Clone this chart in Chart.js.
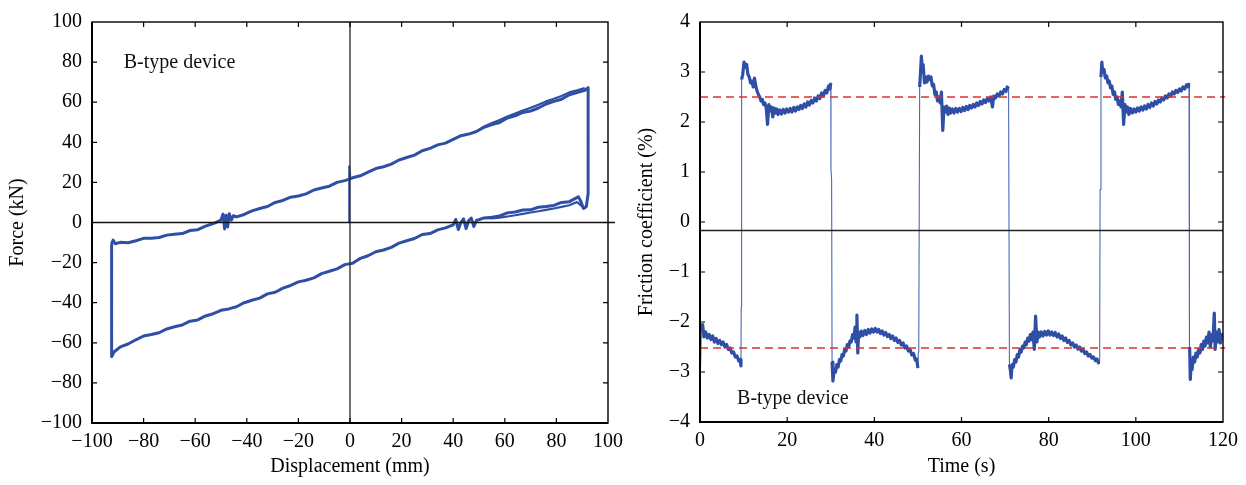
<!DOCTYPE html>
<html>
<head>
<meta charset="utf-8">
<script src="https://cdn.jsdelivr.net/npm/chart.js@4.4.1/dist/chart.umd.min.js"></script>
<style>
  body { margin: 0; background: #fff; }
  #wrap { position: relative; width: 1246px; height: 485px; }
  canvas { position: absolute; top: 0; }
</style>
</head>
<body>
<div id="wrap">
  <canvas id="loopChart" width="630" height="485" style="left:0px"></canvas>
  <canvas id="fricChart" width="618" height="485" style="left:628px"></canvas>
</div>
<script>
// --- Left panel: force vs displacement (hysteresis loop) ---
const dispTicks = [-100, -80, -60, -40, -20, 0, 20, 40, 60, 80, 100];
const forceTicks = [-100, -80, -60, -40, -20, 0, 20, 40, 60, 80, 100];

// upper branch, left to right [displacement mm, force kN]
const upperBranch = [
  [-92.4,-10.5],[-91.8,-8.8],[-91,-10.6],[-89,-9.9],[-86,-10.1],[-83,-9.1],[-80,-7.9],[-77,-7.9],
  [-74,-7.5],[-71,-6.3],[-68,-5.9],[-65,-5.5],[-62,-4.0],[-59,-3.6],[-56,-1.8],[-53,-0.5],[-50,1.2],
  [-49.2,4.2],[-48.6,-3.2],[-48,3.6],[-47.4,-2.2],[-46.8,4.4],[-46,1.2],[-45.2,3.4],
  [-44,2.8],[-41,4.0],[-38,5.8],[-35,7.0],[-32,8.0],[-29,10.0],[-26,11.0],[-23,12.6],[-20,13.2],
  [-17,14.3],[-14,16.2],[-11,17.2],[-8,18.1],[-5,20.0],[-2,20.9],[1,22.3],[4,23.3],[7,25.1],
  [10,26.9],[13,27.8],[16,29.1],[19,31.2],[22,32.4],[25,33.6],[28,35.8],[31,37.0],[34,38.7],
  [37,39.6],[40,41.5],[43,43.3],[46,44.1],[49,45.4],[52,47.5],[55,48.8],[58,49.9],[61,52.1],
  [64,53.2],[67,54.9],[70,55.6],[73,57.1],[76,59.1],[79,60.4],[82,61.5],[85,63.7],[88,64.8],
  [91,65.9],[92.3,67.2]
];
// right end drop and hook, top to bottom
const rightHook = [[92.3,14.5],[91.6,8.0],[90.5,7.0],[89.5,10.5],[88.5,12.8]];
// lower branch, left to right
const lowerBranch = [
  [-92.3,-66.8],[-91.5,-64.6],[-89,-62.0],[-86,-60.6],[-83,-58.5],[-80,-56.6],[-77,-55.9],[-74,-55.0],
  [-71,-53.1],[-68,-52.0],[-65,-51.1],[-62,-49.2],[-59,-48.6],[-56,-46.6],[-53,-45.5],[-50,-43.8],
  [-47,-43.1],[-44,-42.0],[-41,-40.0],[-38,-38.8],[-35,-37.7],[-32,-35.6],[-29,-34.8],[-26,-32.7],
  [-23,-31.4],[-20,-29.6],[-17,-28.8],[-14,-27.6],[-11,-25.5],[-8,-24.3],[-5,-23.1],[-2,-21.0],
  [1,-20.3],[4,-17.9],[7,-16.6],[10,-14.6],[13,-13.7],[16,-12.4],[19,-10.3],[22,-9.1],[25,-8.0],
  [28,-6.0],[31,-5.5],[34,-3.7],[37,-2.7],[40,-1.2],[41,1.5],[42,-3.5],[43,0.1],[44,1.8],[45,-3.0],
  [46,1.0],[47,2.2],[48,-2.0],[49,1.0],[52,2.3],[55,2.6],[58,3.3],[61,4.8],[64,5.2],[67,6.2],
  [70,6.3],[73,7.6],[76,8.0],[79,8.5],[82,10.0],[85,10.4],[87,11.8]
];
// repeated cycles, slightly offset near the right end
const upperPass2 = [[49,45.4],[52,47.9],[55,49.6],[58,51.1],[61,52.9],[64,54.3],[67,55.9],
  [70,57.2],[73,58.7],[76,60.4],[79,61.7],[82,63.1],[85,64.9],[88,65.9],[91,67.0]];
const lowerPass2 = [[52,2.3],[55,2.0],[58,2.4],[61,3.0],[64,3.6],[67,4.3],[70,5.0],[73,5.6],
  [76,6.3],[79,7.0],[82,7.8],[85,8.6],[88,10.2],[90,8.0],[91.5,7.2]];
const loopSpike = [[-0.3,0],[-0.3,28],[0.2,21.8]];

// --- Right panel: friction coefficient vs time ---
const timeTicks = [0, 20, 40, 60, 80, 100, 120];
const fricTicks = [-4, -3, -2, -1, 0, 1, 2, 3, 4];
const designLevels = [2.5, -2.52];
const baseLevel = -0.17;

const fricStart = [[0,-0.05],[0.1,-3.0]];
const fricA = [[0.3,-2.2],[0.6,-2.05],[0.9,-2.3],[1.3,-2.2],[1.7,-2.32],[2.1,-2.25],[2.5,-2.35],[2.9,-2.28],
  [3.3,-2.4],[3.7,-2.33],[4.1,-2.43],[4.5,-2.37],[4.9,-2.45],[5.3,-2.4],[5.7,-2.5],[6.1,-2.45],[6.5,-2.55],
  [6.9,-2.52],[7.3,-2.62],[7.7,-2.6],[8.1,-2.7],[8.5,-2.68],[8.9,-2.78],[9.2,-2.75],[9.4,-2.88]];
const rise1 = [[9.45,-1.7]];
const fricB = [[9.55,2.85],[9.8,2.95],[10.1,3.2],[10.4,3.1],[10.7,3.15],[11.0,2.95],[11.3,2.9],[11.6,2.78],
  [11.9,2.82],[12.2,2.7],[12.5,2.88],[12.8,2.72],[13.1,2.62],[13.4,2.55],[13.7,2.5],[14.0,2.42],[14.3,2.45],
  [14.6,2.35],[14.9,2.38],[15.2,2.28],[15.5,1.95],[15.8,2.35],[16.1,2.22],[16.4,2.3],[16.7,2.1],[17.0,2.28],
  [17.3,2.18],[17.6,2.26],[17.9,2.15],[18.3,2.24],[18.7,2.16],[19.1,2.25],[19.5,2.18],[19.9,2.26],[20.3,2.2],
  [20.7,2.27],[21.1,2.2],[21.5,2.29],[21.9,2.22],[22.3,2.3],[22.7,2.25],[23.1,2.33],[23.5,2.27],[23.9,2.36],
  [24.3,2.3],[24.7,2.4],[25.1,2.34],[25.5,2.43],[25.9,2.38],[26.3,2.48],[26.7,2.42],[27.1,2.52],[27.5,2.47],
  [27.9,2.58],[28.3,2.52],[28.7,2.63],[29.1,2.58],[29.5,2.72],[29.8,2.66],[30.0,2.78]];
const fall2 = [[30.05,1.05],[30.2,0.85]];
const fricC = [[30.3,-2.8],[30.5,-3.18],[30.8,-2.95],[31.1,-3.0],[31.4,-2.85],[31.7,-2.9],[32.0,-2.75],
  [32.3,-2.78],[32.6,-2.65],[32.9,-2.68],[33.2,-2.55],[33.5,-2.58],[33.8,-2.45],[34.1,-2.5],[34.4,-2.38],
  [34.7,-2.4],[35.0,-2.25],[35.3,-2.32],[35.6,-2.1],[35.8,-2.4],[36.0,-1.86],[36.2,-2.62],[36.4,-2.2],
  [36.7,-2.3],[37.0,-2.18],[37.4,-2.27],[37.8,-2.17],[38.2,-2.25],[38.6,-2.15],[39.0,-2.22],[39.4,-2.14],
  [39.8,-2.2],[40.2,-2.13],[40.6,-2.2],[41.0,-2.15],[41.4,-2.23],[41.8,-2.18],[42.2,-2.26],[42.6,-2.21],
  [43.0,-2.29],[43.4,-2.25],[43.8,-2.33],[44.2,-2.28],[44.6,-2.37],[45.0,-2.32],[45.4,-2.41],[45.8,-2.37],
  [46.2,-2.46],[46.6,-2.42],[47.0,-2.52],[47.4,-2.48],[47.8,-2.58],[48.2,-2.55],[48.6,-2.66],[49.0,-2.63],
  [49.4,-2.76],[49.7,-2.74],[50.0,-2.92]];
const rise3 = [[50.1,-2.6],[50.2,-2.35]];
const fricD = [[50.4,2.7],[50.6,3.0],[50.8,3.32],[51.0,3.05],[51.2,3.15],[51.5,2.78],[51.8,2.9],[52.1,2.8],
  [52.4,2.92],[52.7,2.85],[53.0,2.9],[53.3,2.72],[53.6,2.75],[53.9,2.55],[54.2,2.6],[54.5,2.42],[54.8,2.5],
  [55.1,2.38],[55.4,2.6],[55.7,1.83],[56.0,2.3],[56.3,2.2],[56.6,2.32],[56.9,2.15],[57.2,2.28],[57.5,2.18],
  [57.9,2.26],[58.3,2.18],[58.7,2.27],[59.1,2.2],[59.5,2.27],[59.9,2.21],[60.3,2.29],[60.7,2.23],[61.1,2.31],
  [61.5,2.25],[61.9,2.33],[62.3,2.28],[62.7,2.35],[63.1,2.3],[63.5,2.38],[63.9,2.33],[64.3,2.41],[64.7,2.36],
  [65.1,2.44],[65.5,2.39],[65.9,2.47],[66.3,2.42],[66.7,2.5],[67.1,2.3],[67.4,2.52],[67.8,2.48],[68.2,2.56],
  [68.6,2.52],[69.0,2.6],[69.4,2.56],[69.8,2.65],[70.2,2.61],[70.5,2.7],[70.8,2.66]];
const fricE = [[71.0,-2.85],[71.2,-2.95],[71.4,-3.12],[71.6,-2.85],[71.9,-2.9],[72.2,-2.75],[72.5,-2.8],
  [72.8,-2.65],[73.1,-2.7],[73.4,-2.55],[73.7,-2.6],[74.0,-2.48],[74.3,-2.52],[74.6,-2.4],[74.9,-2.45],
  [75.2,-2.32],[75.5,-2.38],[75.8,-2.25],[76.1,-2.35],[76.4,-2.2],[76.7,-2.55],[77.0,-1.88],[77.3,-2.4],
  [77.6,-2.2],[77.9,-2.3],[78.3,-2.2],[78.7,-2.28],[79.1,-2.19],[79.5,-2.26],[79.9,-2.18],[80.3,-2.26],
  [80.7,-2.2],[81.1,-2.27],[81.5,-2.21],[81.9,-2.3],[82.3,-2.24],[82.7,-2.33],[83.1,-2.28],[83.5,-2.37],
  [83.9,-2.32],[84.3,-2.41],[84.7,-2.37],[85.1,-2.46],[85.5,-2.42],[85.9,-2.5],[86.3,-2.46],[86.7,-2.54],
  [87.1,-2.5],[87.5,-2.58],[87.9,-2.55],[88.3,-2.63],[88.7,-2.6],[89.1,-2.68],[89.5,-2.65],[89.9,-2.72],
  [90.3,-2.7],[90.7,-2.77],[91.1,-2.74],[91.5,-2.84]];
const rise5 = [[91.7,-2.8],[91.8,0.65]];
const fricF = [[92.0,2.9],[92.2,3.2],[92.4,3.0],[92.7,3.05],[93.0,2.88],[93.3,2.92],[93.6,2.78],[93.9,2.82],
  [94.2,2.68],[94.5,2.72],[94.8,2.55],[95.1,2.6],[95.4,2.45],[95.7,2.5],[96.0,2.35],[96.3,2.42],[96.6,2.3],
  [96.9,2.6],[97.2,1.95],[97.5,2.35],[97.8,2.2],[98.1,2.3],[98.4,2.15],[98.8,2.27],[99.2,2.18],[99.6,2.26],
  [100.0,2.2],[100.4,2.28],[100.8,2.22],[101.2,2.3],[101.6,2.24],[102.0,2.32],[102.4,2.26],[102.8,2.35],
  [103.2,2.29],[103.6,2.38],[104.0,2.32],[104.4,2.41],[104.8,2.36],[105.2,2.44],[105.6,2.4],[106.0,2.48],
  [106.4,2.44],[106.8,2.52],[107.2,2.48],[107.6,2.56],[108.0,2.52],[108.4,2.6],[108.8,2.56],[109.2,2.63],
  [109.6,2.59],[110.0,2.66],[110.4,2.62],[110.8,2.7],[111.2,2.66],[111.6,2.74],[112.0,2.7],[112.1,2.78]];
const fall6 = [[112.2,2.75],[112.25,-2.45]];
const fricG = [[112.35,-2.5],[112.5,-3.15],[112.7,-2.8],[112.9,-2.95],[113.2,-2.7],[113.5,-2.8],[113.8,-2.62],
  [114.1,-2.7],[114.4,-2.55],[114.7,-2.62],[115.0,-2.45],[115.3,-2.55],[115.6,-2.38],[115.9,-2.48],
  [116.2,-2.3],[116.5,-2.42],[116.8,-2.2],[117.1,-2.5],[117.4,-2.25],[117.7,-2.38],[118.0,-1.82],
  [118.2,-2.55],[118.5,-2.2],[118.8,-2.4],[119.1,-2.15],[119.4,-2.42],[119.7,-2.25],[120.0,-2.35]];

// --- helpers ---
const serif = "'Liberation Serif', 'Times New Roman', serif";
const blue = '#2f4fa6';
const pts = arr => arr.map(p => ({ x: p[0], y: p[1] }));
const minus = v => String(v).replace('-', '\u2212');

function lineSet(data, color, width, extra) {
  return Object.assign({ data: pts(data), showLine: true, pointRadius: 0, borderColor: color,
    borderWidth: width, tension: 0, borderJoinStyle: 'round' }, extra || {});
}

// frame, inner tick marks and the in-plot label
const frameTicks = {
  id: 'frameTicks',
  afterDraw(chart, args, opts) {
    const { ctx, chartArea: a, scales: { x, y } } = chart;
    ctx.save();
    ctx.strokeStyle = '#000';
    ctx.lineWidth = 1.4;
    ctx.strokeRect(a.left, a.top, a.right - a.left, a.bottom - a.top);
    ctx.lineWidth = 2;
    ctx.beginPath();
    ctx.moveTo(a.left, a.top); ctx.lineTo(a.left, a.bottom); ctx.lineTo(a.right, a.bottom);
    ctx.stroke();
    ctx.lineWidth = 1.2;
    ctx.beginPath();
    opts.xTicks.forEach(v => {
      const px = x.getPixelForValue(v);
      ctx.moveTo(px, a.bottom); ctx.lineTo(px, a.bottom - 5);
      ctx.moveTo(px, a.top); ctx.lineTo(px, a.top + 5);
    });
    opts.yTicks.forEach(v => {
      const py = y.getPixelForValue(v);
      ctx.moveTo(a.left, py); ctx.lineTo(a.left + 5, py);
      ctx.moveTo(a.right, py); ctx.lineTo(a.right - 5, py);
    });
    ctx.stroke();
    ctx.fillStyle = '#111';
    ctx.font = '20px ' + serif;
    ctx.textBaseline = 'middle';
    ctx.textAlign = 'left';
    ctx.fillText(opts.label, x.getPixelForValue(opts.at[0]), y.getPixelForValue(opts.at[1]));
    ctx.restore();
  }
};

function axis(min, max, step, title, fit, titlePad, tickPad) {
  return {
    type: 'linear', min: min, max: max,
    ticks: { stepSize: step, autoSkip: false, maxRotation: 0, padding: tickPad, color: '#000',
      font: { family: serif, size: 20 }, callback: minus },
    grid: { display: false, drawTicks: false },
    border: { display: false },
    title: { display: true, text: title, color: '#000', font: { family: serif, size: 20 }, padding: titlePad },
    afterFit: fit
  };
}

Chart.defaults.animation = false;
Chart.defaults.responsive = false;
Chart.defaults.plugins.legend.display = false;
Chart.defaults.plugins.tooltip.enabled = false;

// --- left chart ---
const loopPath = [].concat(upperBranch, rightHook, lowerBranch.slice().reverse(), [upperBranch[0]]);

new Chart(document.getElementById('loopChart'), {
  type: 'scatter',
  data: {
    datasets: [
      lineSet([[-100, 0], [102.7, 0]], '#111', 1.3, { clip: false }),
      lineSet([[0, -100], [0, 100]], '#333', 1.4),
      lineSet(loopSpike, blue, 2),
      lineSet(loopPath, blue, 3),
      lineSet(upperPass2, blue, 2.2),
      lineSet(lowerPass2, blue, 2.2)
    ]
  },
  options: {
    layout: { padding: { top: 16, right: 19, left: 0, bottom: 0 } },
    scales: {
      x: axis(-100, 100, 20, 'Displacement (mm)', s => { s.height = 62; }, { top: 0, bottom: 6 }, 7),
      y: axis(-100, 100, 20, 'Force (kN)', s => { s.width = 92; }, { top: 6, bottom: 0 }, 10)
    },
    plugins: { frameTicks: { xTicks: dispTicks.slice(1, -1), yTicks: forceTicks.slice(1, -1),
      label: 'B-type device', at: [-87.7, 79.5] } }
  },
  plugins: [frameTicks]
});

// --- right chart ---
const fricPath = [].concat(fricStart, fricA, rise1, fricB, fall2, fricC, rise3, fricD, fricE, rise5, fricF, fall6, fricG);
const plateaus = [fricA, fricB, fricC, fricD, fricE, fricF, fricG];

new Chart(document.getElementById('fricChart'), {
  type: 'scatter',
  data: {
    datasets: [
      lineSet([[0, designLevels[0]], [120.5, designLevels[0]]], '#e0302c', 1.5, { borderDash: [8, 5], clip: false }),
      lineSet([[0, designLevels[1]], [120.5, designLevels[1]]], '#e0302c', 1.5, { borderDash: [8, 5], clip: false }),
      lineSet([[0, baseLevel], [120, baseLevel]], '#222', 1.3)
    ].concat(plateaus.map(p => lineSet(p, blue, 3.2)), [lineSet(fricPath, '#4a68ba', 1.1)])
  },
  options: {
    layout: { padding: { top: 10, right: 23, left: 0, bottom: 0 } },
    scales: {
      x: axis(0, 120, 20, 'Time (s)', s => { s.height = 63; }, { top: 0, bottom: 6 }, 7),
      y: axis(-4, 4, 1, 'Friction coefficient (%)', s => { s.width = 72; }, { top: 7, bottom: 0 }, 10)
    },
    plugins: { frameTicks: { xTicks: timeTicks.slice(1, -1), yTicks: fricTicks.slice(1, -1),
      label: 'B-type device', at: [8.5, -3.53] } }
  },
  plugins: [frameTicks]
});
</script>
</body>
</html>
